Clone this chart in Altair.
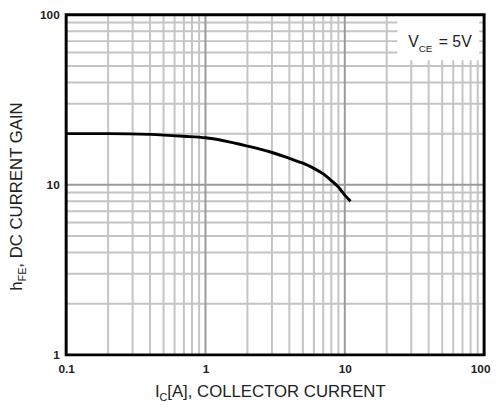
import altair as alt
import pandas as pd

# ---- data ----
ic = [0.1, 0.2, 0.4, 0.7, 1, 2, 3, 4, 5, 6, 7, 8, 9, 10, 11]
hfe = [20, 20, 19.8, 19.3, 18.9, 16.9, 15.5, 14.3, 13.4, 12.5, 11.6, 10.6, 9.7, 8.7, 8.0]

x_minor = [0.2, 0.3, 0.4, 0.5, 0.6, 0.7, 0.8, 0.9,
           2, 3, 4, 5, 6, 7, 8, 9,
           20, 30, 40, 50, 60, 70, 80, 90]
x_major = [1, 10]
y_minor = [2, 3, 4, 5, 6, 7, 8, 9,
           20, 30, 40, 50, 60, 70, 80, 90]
y_major = [10]
x_ticks = [0.1, 1, 10, 100]
y_ticks = [1, 10, 100]

W, H = 424, 345
FONT = "Liberation Sans"
TXT = "#222222"

xs = alt.Scale(type="log", domain=[0.1, 100])
ys = alt.Scale(type="log", domain=[1, 100])

AX_X = alt.Axis(values=x_ticks, format="~g", grid=False, ticks=False, domain=False,
                labelFont=FONT, labelFontSize=12, labelFontWeight="bold",
                labelColor=TXT, labelPadding=9, labelFlush=False, title=None,
                labelOffset={"condition": {"test": "datum.value == 100", "value": -4}, "value": 0})
AX_Y = alt.Axis(values=y_ticks, format="~g", grid=False, ticks=False, domain=False,
                labelFont=FONT, labelFontSize=12, labelFontWeight="bold",
                labelColor=TXT, labelPadding=7, labelFlush=False, title=None)

curve_df = pd.DataFrame({"ic": ic, "hfe": hfe})

vmin = alt.Chart(pd.DataFrame({"v": x_minor})).mark_rule(color="#c4c4c4", strokeWidth=2).encode(
    x=alt.X("v:Q", scale=xs, axis=AX_X))
vmaj = alt.Chart(pd.DataFrame({"v": x_major})).mark_rule(color="#9a9a9a", strokeWidth=2).encode(
    x=alt.X("v:Q", scale=xs, axis=AX_X))
hmin = alt.Chart(pd.DataFrame({"v": y_minor})).mark_rule(color="#c4c4c4", strokeWidth=2).encode(
    y=alt.Y("v:Q", scale=ys, axis=AX_Y))
hmaj = alt.Chart(pd.DataFrame({"v": y_major})).mark_rule(color="#9a9a9a", strokeWidth=2).encode(
    y=alt.Y("v:Q", scale=ys, axis=AX_Y))

one = alt.Data(values=[{}])

box = alt.Chart(one).mark_rect(color="white").encode(
    x=alt.value(336), x2=alt.value(419), y=alt.value(1), y2=alt.value(46))

curve = alt.Chart(curve_df).mark_line(color="black", strokeWidth=3, interpolate="monotone").encode(
    x=alt.X("ic:Q", scale=xs, axis=AX_X),
    y=alt.Y("hfe:Q", scale=ys, axis=AX_Y),
)

border = alt.Chart(one).mark_rect(fillOpacity=0, stroke="black", strokeWidth=3).encode(
    x=alt.value(0), x2=alt.value(W), y=alt.value(0), y2=alt.value(H))


def txt(s, x, y, size, angle=0):
    return alt.Chart(one).mark_text(
        text=s, font=FONT, fontSize=size, color=TXT, align="left",
        baseline="alphabetic", angle=angle).encode(x=alt.value(x), y=alt.value(y))


# y title (rotated)
yt1 = txt("h", -45, 280, 17, 270)
yt2 = txt("FE", -41, 270.5, 11, 270)
yt3 = txt(", DC CURRENT GAIN", -45, 256.5, 17, 270)
# x title
xt1 = txt("I", 90, 388, 17)
xt2 = txt("C", 94.7, 392, 11)
xt3 = txt("[A], COLLECTOR CURRENT", 102.6, 388, 17)
# legend text
lg1 = txt("V", 347, 33, 16)
lg2 = txt("CE", 357.7, 38, 10)
lg3 = txt("= 5V", 378, 33, 16)

chart = alt.layer(
    vmin, hmin, vmaj, hmaj, box, curve, border,
    yt1, yt2, yt3, xt1, xt2, xt3, lg1, lg2, lg3
).properties(
    width=W, height=H,
    padding={"left": 59, "top": 4, "right": 8, "bottom": 50},
    autosize=alt.AutoSizeParams(type="none"),
).configure_view(stroke="transparent")

chart.save("out.html", embed_options={"renderer": "svg", "actions": False})
